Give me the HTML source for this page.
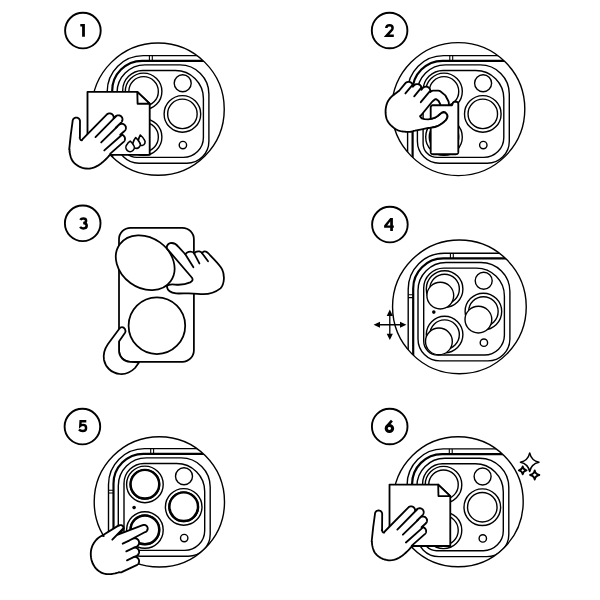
<!DOCTYPE html>
<html><head><meta charset="utf-8">
<style>
html,body{margin:0;padding:0;background:#fff;width:600px;height:600px;overflow:hidden}
svg{display:block}
text{font-family:"Liberation Sans",sans-serif;font-weight:bold}
</style></head>
<body>
<svg width="600" height="600" viewBox="0 0 600 600">
<defs>
<clipPath id="c1"><circle cx="158.1" cy="109.15" r="66.15"/></clipPath>
<clipPath id="c2"><circle cx="458.3" cy="109.1" r="66.5"/></clipPath>
<clipPath id="c4"><circle cx="459.4" cy="306.85" r="66.85"/></clipPath>
<clipPath id="c5"><circle cx="159.35" cy="501.85" r="65.15"/></clipPath>
<clipPath id="c6"><circle cx="458.2" cy="501.7" r="65"/></clipPath>
<g id="phone" fill="none" stroke="#000" stroke-width="1.4">
  <path d="M107.2,400 V91.6 A36,36 0 0 1 143.2,55.6 H400"/>
  <path d="M112.2,400 V90.8 A30,30 0 0 1 142.2,60.8 H400" stroke-width="2.2"/>
  <path d="M145,64.9 H179.9 A29,29 0 0 1 208.9,93.9 V141.3 A22,22 0 0 1 186.9,163.3 H139 A22,22 0 0 1 117,141.3 V92.9 A28,28 0 0 1 145,64.9 Z"/>
  <path d="M142.7,70.5 H175.4 A28,28 0 0 1 203.4,98.5 V137.4 A20,20 0 0 1 183.4,157.4 H136.7 A14,14 0 0 1 122.7,143.4 V90.5 A20,20 0 0 1 142.7,70.5 Z"/>
  <path d="M149.4,55.6 V60.8 M152.3,55.6 V60.8 M107.2,97.2 H112.2 M107.2,100 H112.2" stroke-width="1.1"/>
  <circle cx="182.7" cy="83.2" r="8.5"/>
  <circle cx="182.9" cy="145.1" r="3.7"/>
  <circle cx="132.8" cy="114.5" r="1.8" fill="#000" stroke="none"/>
</g>
<g id="lenses" fill="none" stroke="#000" stroke-width="1.4"><circle cx="143.6" cy="91.4" r="18.3"/><circle cx="143.6" cy="91.4" r="14.75"/><circle cx="182.4" cy="113.9" r="18.3"/><circle cx="182.4" cy="113.9" r="14.75"/><circle cx="143.6" cy="137.0" r="18.3"/><circle cx="143.6" cy="137.0" r="14.75"/></g>
</defs>
<circle cx="82.9" cy="30.6" r="17.8" fill="none" stroke="#000" stroke-width="1.9"/>
<circle cx="389.6" cy="30.5" r="17.8" fill="none" stroke="#000" stroke-width="1.9"/>
<circle cx="82.7" cy="223.3" r="17.8" fill="none" stroke="#000" stroke-width="1.9"/>
<circle cx="389.9" cy="224.6" r="17.8" fill="none" stroke="#000" stroke-width="1.9"/>
<circle cx="82.4" cy="426.6" r="17.8" fill="none" stroke="#000" stroke-width="1.9"/>
<circle cx="389.7" cy="426.5" r="17.8" fill="none" stroke="#000" stroke-width="1.9"/>
<g fill="none" stroke="#000" stroke-linejoin="miter">
<path d="M80.3,24.1 H84.9 V36.7 H82.1 V26.6 H80.3 Z" fill="#000" stroke="none"/>
<path d="M386.3,28 C386.4,26.3 387.7,25.35 389.5,25.35 C391.3,25.35 392.6,26.4 392.6,27.9 C392.6,29 392,29.9 391,30.9 L386.6,35.65 H393.8" stroke-width="2.5"/>
<path d="M80.3,219.9 C80.9,218.9 82,218.5 83.2,218.5 C84.9,218.5 86.1,219.4 86.1,220.7 C86.1,222 85,223 83.2,223 C85.3,223 86.7,224.2 86.7,225.8 C86.7,227.4 85.2,228.4 83.3,228.4 C81.9,228.4 80.8,227.9 80.1,226.9" stroke-width="2.5"/>
<path d="M390.2,218.1 H392.9 V225.5 H393.8 V227.8 H392.9 V230.9 H390.2 V227.8 H384.1 V225.6 Z M390.2,221.6 L387.2,225.5 H390.2 Z" fill="#000" fill-rule="evenodd" stroke="none"/>
<path d="M86.3,421.2 H80.6 L80.3,425.9 C81.1,425.2 82.2,424.9 83.1,424.9 C85,424.9 86.1,426.2 86.1,427.9 C86.1,429.7 84.7,431 82.7,431 C81.1,431 79.8,430.4 79,429.4" stroke-width="2.4"/>
<ellipse cx="389.4" cy="428.5" rx="3.2" ry="2.95" stroke-width="3.1"/><path d="M391.9,420.6 L386.2,427.2" stroke-width="2.6"/>
</g>
<g id="p1"><g clip-path="url(#c1)"><g transform="translate(0,0)"><use href="#phone"/><use href="#lenses"/></g></g>
<circle cx="158.1" cy="109.15" r="66.15" fill="none" stroke="#000" stroke-width="1.4"/></g>
<g><path d="M87.5,91.9 H137.3 L149.7,103.7 V154.8 H87.5 Z" fill="#fff" stroke="#000" stroke-width="1.85" stroke-linejoin="round"/><path d="M137.3,91.9 L137.60000000000002,103.7 H149.7 Z" fill="#fff" stroke="#000" stroke-width="1.85" stroke-linejoin="round"/><g fill="#fff" stroke="#000" stroke-width="1.6" stroke-linejoin="round"><path d="M140.3,135 Q142.98,137.25 144.28,139.75 A3.5,3.5 0 1 1 138.29,140.86 Q138.61,138.06 140.3,135 Z"/><path d="M135.7,137.6 Q138.28,139.78 139.35,142.11 A3.8,3.8 0 1 1 133.03,142.75 Q133.61,140.25 135.7,137.6 Z"/><path d="M130.2,141.1 Q132.58,142.89 133.27,144.65 A4.2,4.2 0 1 1 127.01,144.55 Q127.77,142.81 130.2,141.1 Z"/></g><g transform="translate(0,0)"><path d="M69.2,149.6 L69.2,149.6 L69.5,149.26 L69.5,149.26 L69.5,149.26 L69.51,149.26 L69.51,149.26 L69.51,149.25 L69.51,149.25 L69.51,149.25 L69.51,149.25 L69.51,149.25 L69.51,149.25 L69.51,149.25 L69.51,149.25 L69.51,149.25 L69.52,149.26 L69.52,149.26 L69.52,149.26 L69.52,149.26 L69.52,149.26 L69.52,149.26 L69.52,149.26 L69.52,149.26 L69.52,149.26 L69.52,149.26 L69.52,149.26 L69.52,149.26 L69.51,149.87 L69.51,149.87 L69.61,152 L69.61,152 L69.89,153.6 L69.89,153.6 L70.22,155.13 L70.23,155.13 L70.62,156.59 L70.63,156.59 L71.09,157.99 L71.09,157.99 L71.61,159.31 L71.61,159.31 L72.34,160.61 L72.34,160.61 L73.26,161.87 L73.26,161.87 L74.39,163.1 L74.39,163.1 L75.71,164.3 L75.71,164.3 L77.17,165.37 L77.18,165.37 L78.77,166.31 L78.78,166.31 L80.51,167.11 L80.51,167.11 L82.39,167.79 L82.39,167.79 L84.26,168.26 L84.26,168.26 L86.14,168.54 L86.14,168.54 L88.01,168.61 L88.01,168.61 L89.89,168.49 L89.89,168.49 L91.76,168.16 L91.76,168.16 L93.62,167.62 L93.62,167.62 L95.47,166.88 L95.48,166.87 L97.32,165.93 L97.33,165.92 L99.11,164.85 L99.11,164.85 L100.84,163.65 L100.84,163.65 L102.5,162.33 L102.5,162.32 L104.1,160.88 L104.1,160.87 L105.57,159.49 L105.57,159.49 L106.91,158.16 L106.91,158.16 L108.11,156.9 L108.11,156.9 L109.19,155.7 L109.19,155.7 L109.19,155.7 L110.01,154.43 L110.01,154.43 L110.01,154.43 L110.4,153.5 L110.4,153.5 L110.4,153.5 L110.4,153.5 L110.4,153.5 L110.4,153.5 L110.4,153.5 L110.57,153.39 L110.57,153.39 L110.88,153.14 L110.88,153.14 L123.62,141.87 L123.62,141.87 L123.9,141.59 L123.9,141.59 L124.16,141.28 L124.16,141.28 L124.39,140.95 L124.39,140.95 L124.58,140.6 L124.59,140.6 L124.74,140.23 L124.74,140.23 L124.86,139.84 L124.86,139.84 L124.95,139.45 L124.95,139.45 L124.99,139.05 L124.99,139.05 L125,138.65 L125,138.65 L124.96,138.25 L124.96,138.25 L124.89,137.85 L124.89,137.85 L124.78,137.47 L124.78,137.46 L124.63,137.09 L124.63,137.09 L124.44,136.73 L124.44,136.73 L124.22,136.4 L124.22,136.4 L123.97,136.08 L123.97,136.08 L123.69,135.8 L123.69,135.8 L123.38,135.54 L123.38,135.54 L123.05,135.31 L123.05,135.31 L122.7,135.12 L122.7,135.11 L122.33,134.96 L122.33,134.96 L121.94,134.84 L121.94,134.84 L121.55,134.75 L121.55,134.75 L121.15,134.71 L121.15,134.71 L120.75,134.7 L120.75,134.7 L120.35,134.74 L120.35,134.74 L120.27,134.75 L120.27,134.75 L120.27,134.75 L120.27,134.75 L120.27,134.75 L120.27,134.75 L120.27,134.75 L120.26,134.75 L120.26,134.75 L120.26,134.75 L120.26,134.75 L120.26,134.75 L120.26,134.75 L120.26,134.75 L120.26,134.75 L120.26,134.74 L120.26,134.74 L120.26,134.74 L120.26,134.74 L120.26,134.74 L120.26,134.74 L120.26,134.74 L120.26,134.74 L120.26,134.74 L120.26,134.74 L120.26,134.74 L120.26,134.73 L120.26,134.73 L124.52,130.97 L124.52,130.97 L124.8,130.69 L124.8,130.69 L125.06,130.38 L125.06,130.38 L125.29,130.05 L125.29,130.05 L125.48,129.7 L125.49,129.7 L125.64,129.33 L125.64,129.33 L125.76,128.94 L125.76,128.94 L125.85,128.55 L125.85,128.55 L125.89,128.15 L125.89,128.15 L125.9,127.75 L125.9,127.75 L125.86,127.35 L125.86,127.35 L125.79,126.95 L125.79,126.95 L125.68,126.57 L125.68,126.56 L125.53,126.19 L125.53,126.19 L125.34,125.83 L125.34,125.83 L125.12,125.5 L125.12,125.5 L124.87,125.18 L124.87,125.18 L124.59,124.9 L124.59,124.9 L124.28,124.64 L124.28,124.64 L123.95,124.41 L123.95,124.41 L123.6,124.22 L123.6,124.21 L123.23,124.06 L123.23,124.06 L122.84,123.94 L122.84,123.94 L122.45,123.85 L122.45,123.85 L122.05,123.81 L122.05,123.81 L121.65,123.8 L121.65,123.8 L121.25,123.84 L121.25,123.84 L120.85,123.91 L120.85,123.91 L120.47,124.02 L120.46,124.02 L120.09,124.17 L120.09,124.17 L119.73,124.36 L119.73,124.36 L119.4,124.58 L119.4,124.58 L119.08,124.83 L119.08,124.83 L115.77,127.76 L115.77,127.76 L115.77,127.76 L115.77,127.76 L115.77,127.76 L115.77,127.76 L115.77,127.76 L115.77,127.76 L115.77,127.76 L115.76,127.76 L115.76,127.76 L115.76,127.76 L115.76,127.76 L115.76,127.76 L115.76,127.76 L115.76,127.76 L115.76,127.76 L115.76,127.76 L115.76,127.76 L115.76,127.75 L115.76,127.75 L115.76,127.75 L115.76,127.75 L115.76,127.75 L115.76,127.75 L115.76,127.75 L115.76,127.75 L115.76,127.75 L115.76,127.75 L115.76,127.75 L115.76,127.74 L115.76,127.74 L121.27,122.32 L121.27,122.32 L121.55,122.03 L121.55,122.03 L121.79,121.71 L121.79,121.71 L122,121.36 L122,121.36 L122.17,121 L122.17,121 L122.31,120.62 L122.31,120.62 L122.41,120.24 L122.41,120.23 L122.48,119.84 L122.48,119.84 L122.5,119.44 L122.5,119.44 L122.48,119.03 L122.48,119.03 L122.43,118.64 L122.43,118.64 L122.33,118.24 L122.33,118.24 L122.2,117.86 L122.2,117.86 L122.03,117.5 L122.03,117.5 L121.83,117.15 L121.83,117.15 L121.59,116.83 L121.59,116.83 L121.32,116.53 L121.32,116.53 L121.03,116.25 L121.03,116.25 L120.71,116.01 L120.71,116.01 L120.36,115.8 L120.36,115.8 L120,115.63 L120,115.63 L119.62,115.49 L119.62,115.49 L119.24,115.39 L119.23,115.39 L118.84,115.32 L118.84,115.32 L118.44,115.3 L118.44,115.3 L118.03,115.32 L118.03,115.32 L117.64,115.37 L117.64,115.37 L117.24,115.47 L117.24,115.47 L116.86,115.6 L116.86,115.6 L116.5,115.77 L116.5,115.77 L116.15,115.97 L116.15,115.97 L115.83,116.21 L115.83,116.21 L115.53,116.48 L115.53,116.48 L113.63,118.34 L113.63,118.34 L113.63,118.34 L113.63,118.34 L113.63,118.34 L113.62,118.34 L113.62,118.34 L113.62,118.34 L113.62,118.34 L113.62,118.34 L113.62,118.34 L113.62,118.34 L113.62,118.34 L113.62,118.34 L113.62,118.34 L113.62,118.34 L113.61,118.34 L113.61,118.34 L113.61,118.34 L113.61,118.34 L113.61,118.34 L113.61,118.34 L113.61,118.33 L113.61,118.33 L113.61,118.33 L113.61,118.33 L113.61,118.33 L113.63,118.26 L113.63,118.26 L113.68,117.87 L113.68,117.87 L113.7,117.46 L113.7,117.46 L113.68,117.06 L113.68,117.06 L113.61,116.67 L113.61,116.66 L113.51,116.28 L113.51,116.28 L113.37,115.9 L113.37,115.9 L113.2,115.54 L113.2,115.54 L112.99,115.19 L112.99,115.19 L112.75,114.87 L112.75,114.87 L112.47,114.58 L112.47,114.58 L112.17,114.31 L112.17,114.31 L111.85,114.07 L111.85,114.07 L111.5,113.87 L111.5,113.87 L111.14,113.7 L111.14,113.7 L110.76,113.57 L110.76,113.57 L110.36,113.47 L110.36,113.47 L109.97,113.42 L109.97,113.42 L109.56,113.4 L109.56,113.4 L109.16,113.42 L109.16,113.42 L108.77,113.49 L108.76,113.49 L108.38,113.59 L108.38,113.59 L108,113.73 L108,113.73 L107.64,113.9 L107.64,113.9 L107.29,114.11 L107.29,114.11 L106.97,114.35 L106.97,114.35 L106.68,114.63 L106.68,114.63 L82.84,138.88 L82.84,138.88 L82.58,139.18 L82.58,139.18 L82.34,139.5 L82.34,139.5 L82.14,139.85 L82.14,139.85 L81.97,140.21 L81.97,140.21 L81.94,140.29 L81.94,140.29 L81.94,140.3 L81.94,140.3 L81.94,140.3 L81.94,140.3 L81.94,140.3 L81.94,140.3 L81.94,140.3 L81.93,140.3 L81.93,140.3 L81.93,140.3 L81.93,140.3 L81.93,140.3 L81.73,140.3 L81.73,140.3 L81.72,140.3 L81.4,140.24 L81.4,140.24 L81.4,140.24 L81.1,140.13 L81.1,140.13 L81.1,140.13 L80.83,139.96 L80.83,139.96 L80.82,139.96 L80.58,139.74 L80.58,139.74 L80.57,139.74 L80.37,139.45 L80.37,139.45 L80.37,139.45 L80.21,139.1 L80.21,139.1 L80.21,139.1 L80.09,138.69 L80.09,138.69 L80.01,138.21 L80.01,138.21 L80.01,138.21 L79.6,137.86 L79.6,137.86 L79.59,137.86 L79.59,137.86 L79.59,137.86 L79.59,137.85 L79.59,137.85 L79.59,137.85 L79.59,137.85 L79.59,137.85 L79.59,137.85 L79.59,137.85 L79.59,137.85 L79.59,137.85 L79.59,137.85 L79.59,137.85 L79.6,137.84 L79.9,137.5 L79.9,137.5 L79.9,137.5 L80,121.3 L80,121.3 L79.98,120.94 L79.98,120.94 L79.93,120.58 L79.93,120.58 L79.84,120.23 L79.84,120.23 L79.72,119.88 L79.72,119.88 L79.56,119.56 L79.56,119.56 L79.38,119.24 L79.38,119.24 L79.16,118.95 L79.16,118.95 L78.92,118.68 L78.92,118.68 L78.65,118.44 L78.65,118.44 L78.36,118.22 L78.36,118.22 L78.04,118.04 L78.04,118.04 L77.72,117.88 L77.72,117.88 L77.37,117.76 L77.37,117.76 L77.02,117.67 L77.02,117.67 L76.66,117.62 L76.66,117.62 L76.3,117.6 L76.3,117.6 L75.94,117.62 L75.94,117.62 L75.58,117.67 L75.58,117.67 L75.23,117.76 L75.23,117.76 L74.88,117.88 L74.88,117.88 L74.56,118.04 L74.56,118.04 L74.24,118.22 L74.24,118.22 L73.95,118.44 L73.95,118.44 L73.68,118.68 L73.68,118.68 L73.44,118.95 L73.44,118.95 L73.22,119.24 L73.22,119.24 L73.04,119.56 L73.04,119.56 L72.88,119.88 L72.88,119.88 L72.76,120.23 L72.76,120.23 L72.67,120.58 L72.67,120.58 L72.62,120.94 L72.62,120.94 L72.6,121.3 L72.6,121.3 L70.8,134.7 L70.8,134.7 L70,142.15 L69.8,144.01 L69.2,149.6Z" fill="#fff" stroke="#000" stroke-width="1.85" stroke-linejoin="round"/><path d="M95.5,137.1 L115.88,116.36M101.2,142.4 L117.01,126.87M104.3,150.4 L121.76,134.95" fill="none" stroke="#000" stroke-width="1.85" stroke-linecap="round"/></g></g>
<g id="p2"><g clip-path="url(#c2)"><g transform="translate(300.4,0)"><use href="#phone"/><use href="#lenses"/></g></g>
<circle cx="458.3" cy="109.1" r="66.5" fill="none" stroke="#000" stroke-width="1.4"/></g>
<path d="M427.5,106.5 L433.5,98 L438.5,98 L444,106.5 Z" fill="#fff"/><path d="M430.26,91.88 L430.26,91.87 L430.33,91.45 L430.33,91.45 L430.35,91.03 L430.35,91.03 L430.33,90.6 L430.33,90.6 L430.27,90.18 L430.27,90.18 L430.17,89.76 L430.17,89.76 L430.03,89.36 L430.03,89.36 L429.85,88.97 L429.85,88.97 L429.63,88.61 L429.63,88.61 L429.38,88.26 L429.38,88.26 L429.1,87.94 L429.09,87.94 L428.78,87.65 L428.78,87.65 L428.44,87.4 L428.44,87.4 L428.07,87.18 L428.07,87.18 L427.69,86.99 L427.69,86.99 L427.29,86.85 L427.29,86.85 L426.88,86.74 L426.87,86.74 L426.45,86.67 L426.45,86.67 L426.03,86.65 L426.03,86.65 L425.6,86.67 L425.6,86.67 L425.18,86.73 L425.18,86.73 L424.76,86.83 L424.76,86.83 L424.36,86.97 L424.36,86.97 L423.97,87.15 L423.97,87.15 L423.61,87.37 L423.61,87.37 L423.26,87.62 L423.26,87.62 L422.94,87.9 L422.94,87.91 L422.65,88.22 L422.65,88.22 L421.33,89.81 L421.33,89.81 L421.33,89.81 L421.33,89.82 L421.33,89.82 L421.33,89.82 L421.32,89.82 L421.32,89.82 L421.32,89.82 L421.32,89.82 L421.32,89.82 L421.32,89.82 L421.32,89.82 L421.32,89.82 L421.32,89.82 L421.32,89.82 L421.32,89.81 L421.31,89.81 L421.31,89.81 L421.31,89.81 L421.31,89.81 L421.31,89.81 L421.31,89.81 L421.31,89.81 L421.31,89.81 L421.31,89.81 L421.31,89.81 L421.31,89.8 L421.31,89.8 L421.35,89.69 L421.35,89.69 L421.46,89.28 L421.46,89.27 L421.53,88.85 L421.53,88.85 L421.55,88.43 L421.55,88.43 L421.53,88 L421.53,88 L421.47,87.58 L421.47,87.58 L421.37,87.16 L421.37,87.16 L421.23,86.76 L421.23,86.76 L421.05,86.37 L421.05,86.37 L420.83,86.01 L420.83,86.01 L420.58,85.66 L420.58,85.66 L420.3,85.34 L420.29,85.34 L419.98,85.05 L419.98,85.05 L419.64,84.8 L419.64,84.8 L419.27,84.58 L419.27,84.58 L418.89,84.39 L418.89,84.39 L418.49,84.25 L418.49,84.25 L418.08,84.14 L418.07,84.14 L417.65,84.07 L417.65,84.07 L417.23,84.05 L417.23,84.05 L416.8,84.07 L416.8,84.07 L416.38,84.13 L416.38,84.13 L415.96,84.23 L415.96,84.23 L415.56,84.37 L415.56,84.37 L415.17,84.55 L415.17,84.55 L414.81,84.77 L414.81,84.77 L414.46,85.02 L414.46,85.02 L414.14,85.3 L414.14,85.31 L413.85,85.62 L413.85,85.62 L412.93,86.73 L412.93,86.73 L412.93,86.73 L412.93,86.73 L412.93,86.73 L412.93,86.73 L412.93,86.73 L412.93,86.73 L412.93,86.73 L412.93,86.73 L412.92,86.73 L412.92,86.73 L412.92,86.73 L412.92,86.73 L412.92,86.73 L412.92,86.73 L412.92,86.73 L412.92,86.73 L412.92,86.73 L412.92,86.73 L412.92,86.73 L412.92,86.72 L412.92,86.72 L412.92,86.72 L412.92,86.72 L412.92,86.72 L412.92,86.72 L412.93,86.65 L412.93,86.65 L412.95,86.23 L412.95,86.23 L412.93,85.8 L412.93,85.8 L412.87,85.38 L412.87,85.38 L412.77,84.96 L412.77,84.96 L412.63,84.56 L412.63,84.56 L412.45,84.17 L412.45,84.17 L412.23,83.81 L412.23,83.81 L411.98,83.46 L411.98,83.46 L411.7,83.14 L411.69,83.14 L411.38,82.85 L411.38,82.85 L411.04,82.6 L411.04,82.6 L410.67,82.38 L410.67,82.38 L410.29,82.19 L410.29,82.19 L409.89,82.05 L409.89,82.05 L409.48,81.94 L409.47,81.94 L409.05,81.87 L409.05,81.87 L408.63,81.85 L408.63,81.85 L408.2,81.87 L408.2,81.87 L407.78,81.93 L407.78,81.93 L407.36,82.03 L407.36,82.03 L406.96,82.17 L406.96,82.17 L406.57,82.35 L406.57,82.35 L406.21,82.57 L406.21,82.57 L405.86,82.82 L405.86,82.82 L405.54,83.1 L405.54,83.11 L405.25,83.42 L405.25,83.42 L399.18,90.72 L399.18,90.72 L399.18,90.72 L398.44,91.31 L398.44,91.31 L397.1,92.34 L397.1,92.34 L395.85,93.28 L395.85,93.28 L394.69,94.12 L394.69,94.13 L393.61,94.87 L393.61,94.88 L392.62,95.66 L392.62,95.66 L391.71,96.47 L391.71,96.47 L390.88,97.31 L390.87,97.31 L390.13,98.19 L390.12,98.19 L389.44,99.06 L389.44,99.06 L388.81,99.94 L388.81,99.94 L388.25,100.81 L388.25,100.81 L387.75,101.69 L387.75,101.69 L387.29,102.66 L387.29,102.66 L386.88,103.72 L386.88,103.72 L386.51,104.87 L386.51,104.88 L386.19,106.12 L386.19,106.13 L385.93,107.37 L385.93,107.38 L385.74,108.62 L385.74,108.63 L385.63,109.87 L385.62,109.88 L385.58,111.12 L385.58,111.13 L385.58,112.37 L385.58,112.38 L385.64,113.62 L385.64,113.63 L385.76,114.87 L385.76,114.88 L385.94,116.12 L385.94,116.13 L386.18,117.31 L386.18,117.31 L386.49,118.44 L386.49,118.44 L386.87,119.5 L386.88,119.5 L387.32,120.5 L387.33,120.5 L387.84,121.46 L387.84,121.46 L388.41,122.37 L388.41,122.37 L389.05,123.24 L389.05,123.24 L389.75,124.06 L389.75,124.06 L390.47,124.85 L390.48,124.85 L391.22,125.6 L391.23,125.6 L392,126.31 L392,126.31 L392.8,126.99 L392.8,126.99 L393.59,127.61 L393.59,127.61 L394.36,128.19 L394.36,128.19 L395.12,128.71 L395.13,128.71 L395.87,129.19 L395.88,129.19 L396.62,129.61 L396.63,129.61 L397.37,129.99 L397.38,129.99 L398.12,130.31 L398.13,130.31 L398.87,130.59 L398.88,130.59 L399.75,130.84 L399.75,130.84 L400.75,131.08 L400.75,131.08 L401.87,131.3 L401.88,131.3 L403.12,131.5 L403.13,131.5 L404.37,131.66 L404.38,131.66 L405.62,131.79 L405.63,131.79 L406.87,131.87 L406.88,131.88 L408.12,131.92 L408.13,131.92 L409.37,131.88 L409.38,131.88 L410.62,131.74 L410.63,131.74 L411.87,131.51 L411.88,131.51 L413.12,131.19 L413.12,131.19 L413.13,131.19 L413.82,130.82 L413.82,130.82 L413.82,130.82 L413.82,130.82 L413.82,130.82 L415,130.7 L415,130.7 L421.7,129.3 L425,128.6 L425,128.6 L428.3,128 L428.3,128 L431.5,127.6 L431.5,127.6 L435,127 L435,127 L437.5,126.2 L437.5,126.2 L437.5,126.2 L439.7,125 L439.7,125 L442,123.5 L442,123.5 L444.3,121.7 L444.3,121.7 L446.2,119.8 L446.2,119.8 L446.2,119.8 L447.3,117.7 L447.3,117.7 L447.3,117.7 L447.6,116 L447.6,116 L447.6,116 L447,114.3 L447,114.3 L447,114.3 L445.5,112.5 L445.5,112.5 L445.5,112.5 L443.7,112 L443.7,112 L443.7,112 L442,112.5 L442,112.5 L442,112.5 L440.3,113.7 L440.3,113.7 L438,115.8 L438,115.8 L438,115.8 L435,117.7 L435,117.7 L435,117.7 L432,118.7 L432,118.7 L432,118.7 L428.3,119.3 L428.3,119.3 L428.3,119.3 L424.5,119.2 L424.5,119.2 L424.5,119.2 L424.5,119.2 L421.7,118.3 L421.7,118.3 L421.7,118.3 L421.7,118.3 L421.7,118.3 L421.7,118.3 L421.7,118.3 L420.1,116.47 L420.1,116.46 L420.1,116.46 L420.1,116.46 L420.1,116.46 L420.1,116.46 L420.1,116.46 L420.1,116.46 L420.1,116.46 L420.1,116.46 L420.1,116.46 L420.19,116.08 L420.19,116.07 L420.19,116.07 L420.19,116.07 L420.19,116.07 L420.19,116.07 L420.2,116.07 L420.2,116.07 L420.2,116.07 L420.2,116.07 L420.2,116.07 L420.54,115.82 L420.54,115.82 L420.85,115.53 L420.85,115.53 L421.13,115.22 L421.13,115.22 L432.35,101.46 L432.35,101.46 L432.36,101.46 L435.13,99.2 L435.13,99.2 L435.13,99.2 L435.13,99.2 L435.13,99.2 L435.13,99.2 L435.13,99.2 L435.13,99.2 L436.38,99.2 L436.38,99.2 L436.38,99.2 L436.38,99.2 L436.38,99.2 L436.39,99.2 L436.39,99.2 L436.39,99.2 L438.6,100.98 L438.6,100.98 L438.6,100.99 L438.6,100.99 L438.6,100.99 L440.24,104.13 L440.24,104.13 L440.24,104.13 L440.24,104.13 L440.24,104.14 L440.3,105.67 L440.3,105.67 L440.34,106.09 L440.34,106.09 L440.42,106.51 L440.42,106.51 L440.54,106.91 L440.54,106.91 L440.7,107.3 L440.7,107.3 L440.89,107.68 L440.89,107.68 L441.12,108.03 L441.12,108.03 L441.39,108.36 L441.39,108.36 L441.68,108.66 L441.68,108.66 L442.01,108.93 L442.01,108.93 L442.36,109.17 L442.36,109.17 L442.73,109.37 L442.73,109.37 L443.11,109.54 L443.11,109.54 L443.52,109.66 L443.52,109.66 L443.93,109.75 L443.93,109.75 L444.35,109.79 L444.35,109.79 L444.77,109.8 L444.77,109.8 L445.19,109.76 L445.19,109.76 L445.61,109.68 L445.61,109.68 L446.01,109.56 L446.01,109.56 L446.4,109.4 L446.4,109.4 L446.78,109.21 L446.78,109.21 L447.13,108.98 L447.13,108.98 L447.46,108.71 L447.46,108.71 L447.76,108.42 L447.76,108.42 L448.03,108.09 L448.03,108.09 L448.27,107.74 L448.27,107.74 L448.47,107.37 L448.47,107.37 L448.64,106.99 L448.64,106.99 L448.76,106.58 L448.76,106.58 L448.85,106.17 L448.85,106.17 L448.89,105.75 L448.89,105.75 L448.9,105.33 L448.9,105.33 L448.8,102.83 L448.8,102.83 L448.75,102.36 L448.75,102.36 L448.66,101.89 L448.66,101.89 L448.51,101.44 L448.51,101.44 L448.31,101.01 L448.31,101.01 L445.81,96.21 L445.81,96.21 L445.59,95.83 L445.59,95.83 L445.33,95.47 L445.33,95.47 L445.03,95.15 L445.03,95.15 L444.7,94.85 L444.7,94.85 L440.6,91.55 L440.6,91.55 L440.26,91.31 L440.26,91.31 L439.9,91.09 L439.9,91.09 L439.52,90.92 L439.52,90.92 L439.13,90.78 L439.13,90.78 L438.73,90.68 L438.73,90.68 L438.32,90.62 L438.32,90.62 L437.9,90.6 L437.9,90.6 L433.6,90.6 L433.6,90.6 L433.18,90.62 L433.18,90.62 L432.77,90.68 L432.77,90.68 L432.36,90.78 L432.36,90.78 L431.96,90.92 L431.96,90.92 L431.58,91.1 L431.58,91.1 L431.22,91.32 L431.22,91.32 L430.89,91.57 L430.89,91.57 L430.22,92.11 L430.22,92.11 L430.22,92.11 L430.22,92.11 L430.22,92.11 L430.22,92.11 L430.21,92.11 L430.21,92.11 L430.21,92.11 L430.21,92.11 L430.21,92.11 L430.21,92.11 L430.21,92.11 L430.21,92.11 L430.21,92.11 L430.21,92.11 L430.21,92.11 L430.21,92.1 L430.21,92.1 L430.2,92.1 L430.2,92.1 L430.2,92.1 L430.2,92.1 L430.2,92.1 L430.2,92.1 L430.2,92.1 L430.2,92.1Z" fill="#fff" stroke="#000" stroke-width="1.85" stroke-linejoin="round"/><path d="M405.4,93.4 L412.55,84.79M414.2,96.3 L421.34,87.71M420.8,102.2 L429.76,91.42" fill="none" stroke="#000" stroke-width="1.85" stroke-linecap="round"/><path d="M432.47,105.24 L432.06,105.37 L431.68,105.57 L431.34,105.84 L431.07,106.18 L430.87,106.56 L430.74,106.97 L430.7,107.4 L430.7,118.91 L432,118.7 L435,117.7 L438,115.8 L440.3,113.7 L442,112.5 L443.7,112 L445.5,112.5 L447,114.3 L447.6,116 L447.3,117.7 L446.2,119.8 L444.3,121.7 L442,123.5 L439.7,125 L437.5,126.2 L435,127 L431.5,127.6 L430.7,127.7 L430.7,152 L430.74,152.43 L430.87,152.84 L431.07,153.22 L431.34,153.56 L431.68,153.83 L432.06,154.03 L432.47,154.16 L432.9,154.2 L456.1,154.2 L456.53,154.16 L456.94,154.03 L457.32,153.83 L457.66,153.56 L457.93,153.22 L458.13,152.84 L458.26,152.43 L458.3,152 L458.3,103.9 L458.26,103.47 L458.13,103.06 L457.93,102.68 L457.66,102.34 L457.32,102.07 L456.94,101.87 L456.53,101.74 L456.1,101.7 L454.89,101.7 L454.46,101.74 L454.04,101.87 L453.66,102.08 L453.32,102.36 L453.05,102.7 L452.85,103.08 L452.02,105.15 L452,105.2 L451.95,105.2 L432.9,105.2Z" fill="#fff" stroke="#000" stroke-width="1.85" stroke-linejoin="round"/>
<g id="p4"><g clip-path="url(#c4)"><g transform="translate(301.0,197.6)"><use href="#phone"/><use href="#lenses"/></g></g>
<circle cx="459.4" cy="306.85" r="66.85" fill="none" stroke="#000" stroke-width="1.4"/></g>
<g clip-path="url(#c4)"><circle cx="440.3" cy="295.6" r="13.4" fill="#fff" stroke="#000" stroke-width="1.4"/><circle cx="478.4" cy="319.6" r="13.4" fill="#fff" stroke="#000" stroke-width="1.4"/><circle cx="438.9" cy="341.4" r="13.4" fill="#fff" stroke="#000" stroke-width="1.4"/></g>
<g stroke="none" fill="#000"><path d="M378,324.75 H402 M389.8,314 V335.5" fill="none" stroke="#000" stroke-width="1.3"/><path d="M373.6,324.75 L380,321.7 L380,327.8 Z"/><path d="M406.4,324.75 L400,321.7 L400,327.8 Z"/><path d="M389.8,309.6 L386.7,316 L392.9,316 Z"/><path d="M389.8,340.1 L386.7,333.8 L392.9,333.8 Z"/></g>
<g id="p5"><g clip-path="url(#c5)"><g transform="translate(1.3,393)"><use href="#phone"/><use href="#lenses"/></g></g>
<circle cx="159.35" cy="501.85" r="65.15" fill="none" stroke="#000" stroke-width="1.4"/></g>
<g clip-path="url(#c5)"><circle cx="144.9" cy="484.2" r="14.3" fill="none" stroke="#000" stroke-width="2.4"/><circle cx="183.7" cy="506.7" r="14.3" fill="none" stroke="#000" stroke-width="2.4"/><circle cx="144.9" cy="529.8" r="14.3" fill="none" stroke="#000" stroke-width="2.4"/></g>
<path d="M102.4,535.4 L102.4,535.4 L103.74,535.98 L103.74,535.98 L103.74,535.98 L103.74,535.98 L103.75,535.99 L103.75,535.99 L103.75,535.99 L103.75,535.99 L103.75,535.99 L103.75,535.99 L103.75,535.99 L103.75,535.99 L103.75,535.99 L103.75,535.99 L103.75,535.99 L103.75,536 L103.75,536 L103.75,536 L103.75,536 L103.75,536 L103.75,536 L103.74,536 L103.74,536 L103.74,536 L103.74,536 L103.74,536 L103.74,536 L103.74,536 L103.74,536 L103.74,536 L103.74,536 L102.81,535.8 L102.81,535.8 L102.81,535.8 L101.62,535.95 L101.62,535.95 L101.62,535.95 L100.34,536.49 L100.34,536.49 L100.34,536.49 L98.96,537.41 L98.96,537.41 L97.64,538.51 L97.64,538.51 L96.38,539.77 L96.38,539.77 L95.18,541.2 L95.17,541.2 L94.03,542.8 L94.02,542.8 L93.05,544.46 L93.05,544.46 L92.25,546.17 L92.25,546.17 L91.63,547.94 L91.62,547.94 L91.18,549.76 L91.17,549.76 L90.89,551.65 L90.89,551.65 L90.78,553.6 L90.78,553.6 L90.84,555.61 L90.84,555.61 L91.06,557.69 L91.06,557.69 L91.46,559.7 L91.46,559.7 L92.04,561.65 L92.04,561.65 L92.79,563.54 L92.79,563.54 L93.71,565.36 L93.71,565.36 L94.81,567.05 L94.81,567.05 L96.07,568.6 L96.07,568.6 L97.5,570.01 L97.5,570.01 L99.1,571.29 L99.1,571.29 L100.76,572.32 L100.76,572.33 L102.49,573.12 L102.49,573.13 L104.27,573.69 L104.28,573.69 L106.12,574.01 L106.13,574.01 L107.97,574.17 L107.97,574.17 L109.81,574.17 L109.81,574.17 L111.64,574.01 L111.64,574.01 L113.46,573.69 L113.46,573.69 L115.13,573.34 L115.13,573.34 L116.64,572.98 L116.64,572.98 L118,572.6 L118,572.6 L119.17,572.21 L119.17,572.21 L119.17,572.21 L119.17,572.21 L119.17,572.21 L119.17,572.21 L119.17,572.21 L119.32,572.25 L119.32,572.25 L119.73,572.34 L119.73,572.34 L120.15,572.38 L120.15,572.38 L120.57,572.37 L120.57,572.37 L120.99,572.33 L120.99,572.33 L121.41,572.25 L121.41,572.25 L121.81,572.12 L121.81,572.12 L122.2,571.96 L122.2,571.96 L136.65,565.08 L136.65,565.08 L137.02,564.88 L137.02,564.88 L137.37,564.65 L137.37,564.65 L137.7,564.38 L137.7,564.38 L137.99,564.08 L137.99,564.08 L138.26,563.75 L138.26,563.75 L138.49,563.4 L138.49,563.4 L138.69,563.03 L138.69,563.03 L138.85,562.64 L138.85,562.64 L138.97,562.23 L138.97,562.23 L139.06,561.82 L139.06,561.82 L139.1,561.4 L139.1,561.4 L139.09,560.98 L139.09,560.98 L139.05,560.56 L139.05,560.56 L138.97,560.14 L138.97,560.14 L138.84,559.74 L138.84,559.74 L138.68,559.35 L138.68,559.35 L138.48,558.98 L138.48,558.98 L138.25,558.63 L138.25,558.63 L137.98,558.3 L137.98,558.3 L137.68,558.01 L137.68,558.01 L137.35,557.74 L137.35,557.74 L137,557.51 L137,557.51 L136.63,557.31 L136.63,557.31 L136.24,557.15 L136.24,557.15 L135.83,557.03 L135.83,557.03 L135.42,556.94 L135.42,556.94 L135,556.9 L135,556.9 L134.58,556.91 L134.58,556.91 L134.27,556.94 L134.27,556.94 L134.27,556.94 L134.27,556.94 L134.27,556.94 L134.26,556.94 L134.26,556.94 L134.26,556.94 L134.26,556.93 L134.26,556.93 L134.26,556.93 L134.26,556.93 L134.26,556.93 L134.26,556.93 L134.26,556.93 L134.26,556.93 L134.26,556.93 L134.26,556.93 L134.26,556.93 L134.26,556.93 L134.26,556.92 L134.26,556.92 L134.26,556.92 L134.26,556.92 L134.26,556.92 L134.26,556.92 L134.26,556.92 L134.26,556.92 L134.26,556.92 L134.26,556.92 L136.65,555.78 L136.65,555.78 L137.02,555.58 L137.02,555.58 L137.37,555.35 L137.37,555.35 L137.7,555.08 L137.7,555.08 L137.99,554.78 L137.99,554.78 L138.26,554.45 L138.26,554.45 L138.49,554.1 L138.49,554.1 L138.69,553.73 L138.69,553.73 L138.85,553.34 L138.85,553.34 L138.97,552.93 L138.97,552.93 L139.06,552.52 L139.06,552.52 L139.1,552.1 L139.1,552.1 L139.09,551.68 L139.09,551.68 L139.05,551.26 L139.05,551.26 L138.97,550.84 L138.97,550.84 L138.84,550.44 L138.84,550.44 L138.68,550.05 L138.68,550.05 L138.48,549.68 L138.48,549.68 L138.25,549.33 L138.25,549.33 L137.98,549 L137.98,549 L137.68,548.71 L137.68,548.71 L137.35,548.44 L137.35,548.44 L137,548.21 L137,548.21 L136.63,548.01 L136.63,548.01 L136.24,547.85 L136.24,547.85 L135.83,547.73 L135.83,547.73 L135.42,547.64 L135.42,547.64 L135,547.6 L135,547.6 L134.58,547.61 L134.58,547.61 L134.27,547.64 L134.27,547.64 L134.27,547.64 L134.27,547.64 L134.27,547.64 L134.26,547.64 L134.26,547.64 L134.26,547.64 L134.26,547.63 L134.26,547.63 L134.26,547.63 L134.26,547.63 L134.26,547.63 L134.26,547.63 L134.26,547.63 L134.26,547.63 L134.26,547.63 L134.26,547.63 L134.26,547.63 L134.26,547.63 L134.26,547.62 L134.26,547.62 L134.26,547.62 L134.26,547.62 L134.26,547.62 L134.26,547.62 L134.26,547.62 L134.26,547.62 L134.26,547.62 L134.26,547.62 L136.65,546.48 L136.65,546.48 L137.02,546.28 L137.02,546.28 L137.37,546.05 L137.37,546.05 L137.7,545.78 L137.7,545.78 L137.99,545.48 L137.99,545.48 L138.26,545.15 L138.26,545.15 L138.49,544.8 L138.49,544.8 L138.69,544.43 L138.69,544.43 L138.85,544.04 L138.85,544.04 L138.97,543.63 L138.97,543.63 L139.06,543.22 L139.06,543.22 L139.1,542.8 L139.1,542.8 L139.09,542.38 L139.09,542.38 L139.05,541.96 L139.05,541.96 L138.97,541.54 L138.97,541.54 L138.84,541.14 L138.84,541.14 L138.68,540.75 L138.68,540.75 L138.48,540.38 L138.48,540.38 L138.25,540.03 L138.25,540.03 L137.98,539.7 L137.98,539.7 L137.68,539.41 L137.68,539.41 L137.35,539.14 L137.35,539.14 L137,538.91 L137,538.91 L136.63,538.71 L136.63,538.71 L136.24,538.55 L136.24,538.55 L135.83,538.43 L135.83,538.43 L135.42,538.34 L135.42,538.34 L135,538.3 L135,538.3 L134.58,538.31 L134.58,538.31 L134.16,538.35 L134.16,538.35 L133.74,538.43 L133.74,538.43 L133.34,538.56 L133.34,538.56 L132.95,538.72 L132.95,538.72 L128.69,540.75 L128.69,540.75 L128.69,540.75 L128.69,540.75 L128.69,540.75 L128.69,540.75 L128.68,540.75 L128.68,540.75 L128.68,540.75 L128.68,540.75 L128.68,540.75 L128.68,540.75 L128.68,540.75 L128.68,540.74 L128.68,540.74 L128.68,540.74 L128.68,540.74 L128.68,540.74 L128.68,540.74 L128.68,540.74 L128.68,540.74 L128.68,540.74 L128.68,540.74 L128.68,540.74 L128.68,540.73 L128.68,540.73 L128.68,540.73 L128.68,540.73 L128.68,540.73 L128.68,540.73 L128.68,540.73 L128.68,540.73 L128.68,540.73 L144.71,532.23 L144.71,532.23 L144.71,532.23 L144.71,532.23 L144.72,532.23 L144.72,532.23 L145.07,532.14 L145.07,532.14 L145.42,532.02 L145.42,532.02 L145.74,531.86 L145.74,531.86 L146.06,531.68 L146.06,531.68 L146.35,531.46 L146.35,531.46 L146.62,531.22 L146.62,531.22 L146.86,530.95 L146.86,530.95 L147.08,530.66 L147.08,530.66 L147.26,530.34 L147.26,530.34 L147.42,530.02 L147.42,530.02 L147.54,529.67 L147.54,529.67 L147.63,529.32 L147.63,529.32 L147.68,528.96 L147.68,528.96 L147.7,528.6 L147.7,528.6 L147.68,528.24 L147.68,528.24 L147.63,527.88 L147.63,527.88 L147.54,527.53 L147.54,527.53 L147.42,527.18 L147.42,527.18 L147.26,526.86 L147.26,526.86 L147.08,526.54 L147.08,526.54 L146.86,526.25 L146.86,526.25 L146.62,525.98 L146.62,525.98 L146.35,525.74 L146.35,525.74 L146.06,525.52 L146.06,525.52 L145.74,525.34 L145.74,525.34 L145.42,525.18 L145.42,525.18 L145.07,525.06 L145.07,525.06 L144.72,524.97 L144.72,524.97 L144.36,524.92 L144.36,524.92 L144,524.9 L144,524.9 L143.64,524.92 L143.64,524.92 L143.41,524.95 L143.41,524.95 L143.41,524.95 L143.4,524.95 L143.4,524.95 L143.4,524.95 L143.4,524.95 L143.4,524.95 L143.4,524.95 L143.4,524.95 L143.4,524.95 L143.39,524.95 L143.39,524.95 L143.39,524.96 L143.28,524.97 L143.28,524.97 L142.93,525.06 L142.93,525.06 L142.58,525.18 L142.58,525.18 L142.26,525.34 L142.26,525.34 L142.04,525.46 L142.04,525.46 L142.04,525.47 L117.83,534.65 L117.83,534.65 L117.83,534.65 L117.83,534.65 L117.83,534.65 L117.83,534.65 L117.83,534.65 L117.83,534.65 L117.82,534.65 L117.82,534.65 L117.82,534.65 L117.82,534.64 L117.82,534.64 L117.82,534.64 L117.82,534.64 L117.82,534.64 L117.82,534.64 L117.82,534.64 L117.82,534.64 L117.82,534.64 L117.82,534.64 L117.82,534.64 L117.82,534.63 L117.82,534.63 L117.82,534.63 L117.82,534.63 L117.82,534.63 L117.82,534.63 L117.82,534.63 L122.12,530.68 L122.12,530.68 L122.12,530.68 L122.27,530.59 L122.27,530.59 L122.5,530.42 L122.5,530.42 L122.72,530.22 L122.72,530.22 L122.92,530 L122.92,530 L123.04,529.84 L123.04,529.84 L123.04,529.84 L123.3,529.6 L123.3,529.6 L123.3,529.6 L123.24,529.55 L123.23,529.55 L123.23,529.55 L123.23,529.55 L123.23,529.55 L123.23,529.54 L123.23,529.54 L123.23,529.54 L123.23,529.54 L123.23,529.54 L123.23,529.54 L123.23,529.54 L123.23,529.54 L123.23,529.54 L123.23,529.54 L123.23,529.54 L123.25,529.51 L123.25,529.51 L123.37,529.25 L123.37,529.25 L123.47,528.97 L123.47,528.97 L123.54,528.69 L123.54,528.69 L123.59,528.39 L123.59,528.39 L123.6,528.1 L123.6,528.1 L123.59,527.81 L123.59,527.81 L123.54,527.51 L123.54,527.51 L123.47,527.23 L123.47,527.23 L123.37,526.95 L123.37,526.95 L123.25,526.69 L123.25,526.69 L123.09,526.43 L123.09,526.43 L122.92,526.2 L122.92,526.2 L122.72,525.98 L122.72,525.98 L122.5,525.78 L122.5,525.78 L122.27,525.61 L122.27,525.61 L122.01,525.45 L122.01,525.45 L121.75,525.33 L121.75,525.33 L121.47,525.23 L121.47,525.23 L121.19,525.16 L121.19,525.16 L120.89,525.11 L120.89,525.11 L120.6,525.1 L120.6,525.1 L120.31,525.11 L120.31,525.11 L120.01,525.16 L120.01,525.16 L119.73,525.23 L119.73,525.23 L119.45,525.33 L119.45,525.33 L119.19,525.45 L119.19,525.45 L118.93,525.61 L118.93,525.61 L118.7,525.78 L118.7,525.78 L118.62,525.85 L118.62,525.85 L118.62,525.85 L118.62,525.85 L118.62,525.85 L118.62,525.85 L118.62,525.85 L118.62,525.85 L118.62,525.85 L118.61,525.85 L118.61,525.85 L118.61,525.85 L118.61,525.85 L118.61,525.85 L118.61,525.85 L118.3,525.6 L118.3,525.6 L118.3,525.6 L104,534.5 L104,534.5 L102.4,535.4Z" fill="#fff" stroke="#000" stroke-width="1.85" stroke-linejoin="round"/><path d="M112.3,539.7 L123.44,528.24M122.7,543.7 L128.62,540.88M126.3,551.3 L134.12,547.58M127,560.3 L134.11,556.91" fill="none" stroke="#000" stroke-width="1.85" stroke-linecap="round"/>
<g id="p6"><g clip-path="url(#c6)"><g transform="translate(299.9,393.3)"><use href="#phone"/><use href="#lenses"/></g></g>
<circle cx="458.2" cy="501.7" r="65" fill="none" stroke="#000" stroke-width="1.4"/></g>
<g transform="translate(419.9,515.3) scale(0.977) translate(-118.6,-123.35)"><g><path d="M87.5,91.9 H137.3 L149.7,103.7 V154.8 H87.5 Z" fill="#fff" stroke="#000" stroke-width="1.85" stroke-linejoin="round"/><path d="M137.3,91.9 L137.60000000000002,103.7 H149.7 Z" fill="#fff" stroke="#000" stroke-width="1.85" stroke-linejoin="round"/><g transform="translate(0,0.8)"><path d="M69.2,149.6 L69.2,149.6 L69.5,149.26 L69.5,149.26 L69.5,149.26 L69.51,149.26 L69.51,149.26 L69.51,149.25 L69.51,149.25 L69.51,149.25 L69.51,149.25 L69.51,149.25 L69.51,149.25 L69.51,149.25 L69.51,149.25 L69.51,149.25 L69.52,149.26 L69.52,149.26 L69.52,149.26 L69.52,149.26 L69.52,149.26 L69.52,149.26 L69.52,149.26 L69.52,149.26 L69.52,149.26 L69.52,149.26 L69.52,149.26 L69.52,149.26 L69.51,149.87 L69.51,149.87 L69.61,152 L69.61,152 L69.89,153.6 L69.89,153.6 L70.22,155.13 L70.23,155.13 L70.62,156.59 L70.63,156.59 L71.09,157.99 L71.09,157.99 L71.61,159.31 L71.61,159.31 L72.34,160.61 L72.34,160.61 L73.26,161.87 L73.26,161.87 L74.39,163.1 L74.39,163.1 L75.71,164.3 L75.71,164.3 L77.17,165.37 L77.18,165.37 L78.77,166.31 L78.78,166.31 L80.51,167.11 L80.51,167.11 L82.39,167.79 L82.39,167.79 L84.26,168.26 L84.26,168.26 L86.14,168.54 L86.14,168.54 L88.01,168.61 L88.01,168.61 L89.89,168.49 L89.89,168.49 L91.76,168.16 L91.76,168.16 L93.62,167.62 L93.62,167.62 L95.47,166.88 L95.48,166.87 L97.32,165.93 L97.33,165.92 L99.11,164.85 L99.11,164.85 L100.84,163.65 L100.84,163.65 L102.5,162.33 L102.5,162.32 L104.1,160.88 L104.1,160.87 L105.57,159.49 L105.57,159.49 L106.91,158.16 L106.91,158.16 L108.11,156.9 L108.11,156.9 L109.19,155.7 L109.19,155.7 L109.19,155.7 L110.01,154.43 L110.01,154.43 L110.01,154.43 L110.4,153.5 L110.4,153.5 L110.4,153.5 L110.4,153.5 L110.4,153.5 L110.4,153.5 L110.4,153.5 L110.57,153.39 L110.57,153.39 L110.88,153.14 L110.88,153.14 L123.62,141.87 L123.62,141.87 L123.9,141.59 L123.9,141.59 L124.16,141.28 L124.16,141.28 L124.39,140.95 L124.39,140.95 L124.58,140.6 L124.59,140.6 L124.74,140.23 L124.74,140.23 L124.86,139.84 L124.86,139.84 L124.95,139.45 L124.95,139.45 L124.99,139.05 L124.99,139.05 L125,138.65 L125,138.65 L124.96,138.25 L124.96,138.25 L124.89,137.85 L124.89,137.85 L124.78,137.47 L124.78,137.46 L124.63,137.09 L124.63,137.09 L124.44,136.73 L124.44,136.73 L124.22,136.4 L124.22,136.4 L123.97,136.08 L123.97,136.08 L123.69,135.8 L123.69,135.8 L123.38,135.54 L123.38,135.54 L123.05,135.31 L123.05,135.31 L122.7,135.12 L122.7,135.11 L122.33,134.96 L122.33,134.96 L121.94,134.84 L121.94,134.84 L121.55,134.75 L121.55,134.75 L121.15,134.71 L121.15,134.71 L120.75,134.7 L120.75,134.7 L120.35,134.74 L120.35,134.74 L120.27,134.75 L120.27,134.75 L120.27,134.75 L120.27,134.75 L120.27,134.75 L120.27,134.75 L120.27,134.75 L120.26,134.75 L120.26,134.75 L120.26,134.75 L120.26,134.75 L120.26,134.75 L120.26,134.75 L120.26,134.75 L120.26,134.75 L120.26,134.74 L120.26,134.74 L120.26,134.74 L120.26,134.74 L120.26,134.74 L120.26,134.74 L120.26,134.74 L120.26,134.74 L120.26,134.74 L120.26,134.74 L120.26,134.74 L120.26,134.73 L120.26,134.73 L124.52,130.97 L124.52,130.97 L124.8,130.69 L124.8,130.69 L125.06,130.38 L125.06,130.38 L125.29,130.05 L125.29,130.05 L125.48,129.7 L125.49,129.7 L125.64,129.33 L125.64,129.33 L125.76,128.94 L125.76,128.94 L125.85,128.55 L125.85,128.55 L125.89,128.15 L125.89,128.15 L125.9,127.75 L125.9,127.75 L125.86,127.35 L125.86,127.35 L125.79,126.95 L125.79,126.95 L125.68,126.57 L125.68,126.56 L125.53,126.19 L125.53,126.19 L125.34,125.83 L125.34,125.83 L125.12,125.5 L125.12,125.5 L124.87,125.18 L124.87,125.18 L124.59,124.9 L124.59,124.9 L124.28,124.64 L124.28,124.64 L123.95,124.41 L123.95,124.41 L123.6,124.22 L123.6,124.21 L123.23,124.06 L123.23,124.06 L122.84,123.94 L122.84,123.94 L122.45,123.85 L122.45,123.85 L122.05,123.81 L122.05,123.81 L121.65,123.8 L121.65,123.8 L121.25,123.84 L121.25,123.84 L120.85,123.91 L120.85,123.91 L120.47,124.02 L120.46,124.02 L120.09,124.17 L120.09,124.17 L119.73,124.36 L119.73,124.36 L119.4,124.58 L119.4,124.58 L119.08,124.83 L119.08,124.83 L115.77,127.76 L115.77,127.76 L115.77,127.76 L115.77,127.76 L115.77,127.76 L115.77,127.76 L115.77,127.76 L115.77,127.76 L115.77,127.76 L115.76,127.76 L115.76,127.76 L115.76,127.76 L115.76,127.76 L115.76,127.76 L115.76,127.76 L115.76,127.76 L115.76,127.76 L115.76,127.76 L115.76,127.76 L115.76,127.75 L115.76,127.75 L115.76,127.75 L115.76,127.75 L115.76,127.75 L115.76,127.75 L115.76,127.75 L115.76,127.75 L115.76,127.75 L115.76,127.75 L115.76,127.75 L115.76,127.74 L115.76,127.74 L121.27,122.32 L121.27,122.32 L121.55,122.03 L121.55,122.03 L121.79,121.71 L121.79,121.71 L122,121.36 L122,121.36 L122.17,121 L122.17,121 L122.31,120.62 L122.31,120.62 L122.41,120.24 L122.41,120.23 L122.48,119.84 L122.48,119.84 L122.5,119.44 L122.5,119.44 L122.48,119.03 L122.48,119.03 L122.43,118.64 L122.43,118.64 L122.33,118.24 L122.33,118.24 L122.2,117.86 L122.2,117.86 L122.03,117.5 L122.03,117.5 L121.83,117.15 L121.83,117.15 L121.59,116.83 L121.59,116.83 L121.32,116.53 L121.32,116.53 L121.03,116.25 L121.03,116.25 L120.71,116.01 L120.71,116.01 L120.36,115.8 L120.36,115.8 L120,115.63 L120,115.63 L119.62,115.49 L119.62,115.49 L119.24,115.39 L119.23,115.39 L118.84,115.32 L118.84,115.32 L118.44,115.3 L118.44,115.3 L118.03,115.32 L118.03,115.32 L117.64,115.37 L117.64,115.37 L117.24,115.47 L117.24,115.47 L116.86,115.6 L116.86,115.6 L116.5,115.77 L116.5,115.77 L116.15,115.97 L116.15,115.97 L115.83,116.21 L115.83,116.21 L115.53,116.48 L115.53,116.48 L113.63,118.34 L113.63,118.34 L113.63,118.34 L113.63,118.34 L113.63,118.34 L113.62,118.34 L113.62,118.34 L113.62,118.34 L113.62,118.34 L113.62,118.34 L113.62,118.34 L113.62,118.34 L113.62,118.34 L113.62,118.34 L113.62,118.34 L113.62,118.34 L113.61,118.34 L113.61,118.34 L113.61,118.34 L113.61,118.34 L113.61,118.34 L113.61,118.34 L113.61,118.33 L113.61,118.33 L113.61,118.33 L113.61,118.33 L113.61,118.33 L113.63,118.26 L113.63,118.26 L113.68,117.87 L113.68,117.87 L113.7,117.46 L113.7,117.46 L113.68,117.06 L113.68,117.06 L113.61,116.67 L113.61,116.66 L113.51,116.28 L113.51,116.28 L113.37,115.9 L113.37,115.9 L113.2,115.54 L113.2,115.54 L112.99,115.19 L112.99,115.19 L112.75,114.87 L112.75,114.87 L112.47,114.58 L112.47,114.58 L112.17,114.31 L112.17,114.31 L111.85,114.07 L111.85,114.07 L111.5,113.87 L111.5,113.87 L111.14,113.7 L111.14,113.7 L110.76,113.57 L110.76,113.57 L110.36,113.47 L110.36,113.47 L109.97,113.42 L109.97,113.42 L109.56,113.4 L109.56,113.4 L109.16,113.42 L109.16,113.42 L108.77,113.49 L108.76,113.49 L108.38,113.59 L108.38,113.59 L108,113.73 L108,113.73 L107.64,113.9 L107.64,113.9 L107.29,114.11 L107.29,114.11 L106.97,114.35 L106.97,114.35 L106.68,114.63 L106.68,114.63 L82.84,138.88 L82.84,138.88 L82.58,139.18 L82.58,139.18 L82.34,139.5 L82.34,139.5 L82.14,139.85 L82.14,139.85 L81.97,140.21 L81.97,140.21 L81.94,140.29 L81.94,140.29 L81.94,140.3 L81.94,140.3 L81.94,140.3 L81.94,140.3 L81.94,140.3 L81.94,140.3 L81.94,140.3 L81.93,140.3 L81.93,140.3 L81.93,140.3 L81.93,140.3 L81.93,140.3 L81.73,140.3 L81.73,140.3 L81.72,140.3 L81.4,140.24 L81.4,140.24 L81.4,140.24 L81.1,140.13 L81.1,140.13 L81.1,140.13 L80.83,139.96 L80.83,139.96 L80.82,139.96 L80.58,139.74 L80.58,139.74 L80.57,139.74 L80.37,139.45 L80.37,139.45 L80.37,139.45 L80.21,139.1 L80.21,139.1 L80.21,139.1 L80.09,138.69 L80.09,138.69 L80.01,138.21 L80.01,138.21 L80.01,138.21 L79.6,137.86 L79.6,137.86 L79.59,137.86 L79.59,137.86 L79.59,137.86 L79.59,137.85 L79.59,137.85 L79.59,137.85 L79.59,137.85 L79.59,137.85 L79.59,137.85 L79.59,137.85 L79.59,137.85 L79.59,137.85 L79.59,137.85 L79.59,137.85 L79.6,137.84 L79.9,137.5 L79.9,137.5 L79.9,137.5 L80,121.3 L80,121.3 L79.98,120.94 L79.98,120.94 L79.93,120.58 L79.93,120.58 L79.84,120.23 L79.84,120.23 L79.72,119.88 L79.72,119.88 L79.56,119.56 L79.56,119.56 L79.38,119.24 L79.38,119.24 L79.16,118.95 L79.16,118.95 L78.92,118.68 L78.92,118.68 L78.65,118.44 L78.65,118.44 L78.36,118.22 L78.36,118.22 L78.04,118.04 L78.04,118.04 L77.72,117.88 L77.72,117.88 L77.37,117.76 L77.37,117.76 L77.02,117.67 L77.02,117.67 L76.66,117.62 L76.66,117.62 L76.3,117.6 L76.3,117.6 L75.94,117.62 L75.94,117.62 L75.58,117.67 L75.58,117.67 L75.23,117.76 L75.23,117.76 L74.88,117.88 L74.88,117.88 L74.56,118.04 L74.56,118.04 L74.24,118.22 L74.24,118.22 L73.95,118.44 L73.95,118.44 L73.68,118.68 L73.68,118.68 L73.44,118.95 L73.44,118.95 L73.22,119.24 L73.22,119.24 L73.04,119.56 L73.04,119.56 L72.88,119.88 L72.88,119.88 L72.76,120.23 L72.76,120.23 L72.67,120.58 L72.67,120.58 L72.62,120.94 L72.62,120.94 L72.6,121.3 L72.6,121.3 L70.8,134.7 L70.8,134.7 L70,142.15 L69.8,144.01 L69.2,149.6Z" fill="#fff" stroke="#000" stroke-width="1.85" stroke-linejoin="round"/><path d="M95.5,137.1 L115.88,116.36M101.2,142.4 L117.01,126.87M104.3,150.4 L121.76,134.95" fill="none" stroke="#000" stroke-width="1.85" stroke-linecap="round"/></g></g></g>
<g fill="#fff" stroke="#000" stroke-linejoin="round"><path d="M529.7,452.9 Q531.3,460.6 539,462.2 Q531.3,463.8 529.7,471.5 Q528.1,463.8 520.4,462.2 Q528.1,460.6 529.7,452.9 Z" stroke-width="1.45"/><path d="M522.7,466.5 Q523.3,469.8 526.6,470.4 Q523.3,471 522.7,474.3 Q522.1,471 518.8,470.4 Q522.1,469.8 522.7,466.5 Z" stroke-width="1.8"/><path d="M534.7,470.4 Q535.4,474.3 539.3,475 Q535.4,475.7 534.7,479.6 Q534,475.7 530.1,475 Q534,474.3 534.7,470.4 Z" stroke-width="1.9"/></g>
<g id="p3" fill="#fff" stroke="#000" stroke-width="1.75" stroke-linejoin="round" stroke-linecap="round">
  <rect x="119" y="227.8" width="74.9" height="134" rx="11.5"/>
  <circle cx="156.9" cy="325.7" r="28.3"/>
  <ellipse cx="145.2" cy="262.7" rx="31.4" ry="25.1" transform="rotate(36 145.2 262.7)"/>
  <g transform="translate(95,320) scale(0.1)" stroke-width="17.5">
    <path d="M270,70 C255,70 248,80 243,88 L130,240 C95,290 80,340 90,400 C105,470 160,530 250,540 C320,545 370,510 400,480 L440,425 L350,418 A110,110 0 0 1 240,308 L240,215 L302,125 C312,105 295,70 270,70 Z"/>
  </g>
  <g transform="translate(162,238) scale(0.10833)" stroke-width="16.5">
    <path d="M45,450 C50,485 80,507 130,512 C190,515 250,505 330,515 C410,527 480,512 540,465 C578,425 580,340 555,290 C530,245 480,200 445,160 C425,135 405,118 385,125 C372,130 370,140 370,140 C360,122 330,118 312,128 C302,135 298,145 298,145 C290,128 265,125 245,128 C228,132 215,150 215,150 L150,80 C130,55 100,42 75,48 C50,55 38,80 48,100 L275,365 C290,385 280,400 260,410 C220,428 170,435 120,430 C85,427 50,425 45,450 Z"/>
    <path d="M215,150 L290,270 M298,145 L345,235 M370,140 L425,215" fill="none"/>
  </g>
</g>
</svg>
</body></html>
